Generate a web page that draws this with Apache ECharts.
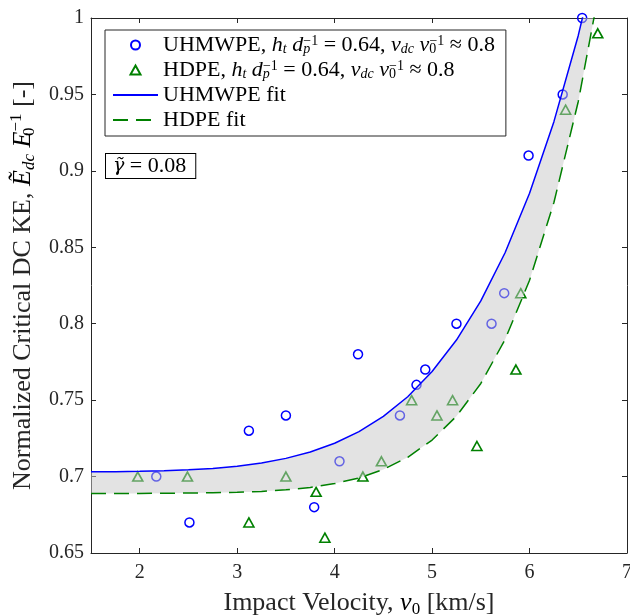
<!DOCTYPE html>
<html>
<head>
<meta charset="utf-8">
<script src="https://cdn.jsdelivr.net/npm/echarts@6/dist/echarts.min.js"></script>
<style>
html,body{margin:0;padding:0;background:#fff;}
#chart{width:630px;height:616px;}
</style>
</head>
<body>
<div id="chart"></div>
<script>
// ---- data ----
const uhmwV = [2.17, 2.51, 3.12, 3.50, 3.79, 4.05, 4.24, 4.67, 4.84, 4.93, 5.25, 5.61, 5.74, 5.99, 6.34, 6.54];
const uhmwE = [0.70, 0.67, 0.73, 0.74, 0.68, 0.71, 0.78, 0.74, 0.76, 0.77, 0.80, 0.80, 0.82, 0.91, 0.95, 1.00];
const hdpeV = [1.98, 2.49, 3.12, 3.50, 3.81, 3.90, 4.29, 4.48, 4.79, 5.05, 5.21, 5.46, 5.86, 5.91, 6.37, 6.70];
const hdpeE = [0.70, 0.70, 0.67, 0.70, 0.69, 0.66, 0.70, 0.71, 0.75, 0.74, 0.75, 0.72, 0.77, 0.82, 0.94, 0.99];
// fit curves, read at regular velocities
const fitV = [1.5, 1.75, 2.0, 2.25, 2.5, 2.75, 3.0, 3.25, 3.5, 3.75, 4.0, 4.25, 4.5, 4.75, 5.0, 5.25, 5.5, 5.75, 6.0, 6.25, 6.5, 6.75];
const fitU = [0.7031, 0.7032, 0.7034, 0.7038, 0.7044, 0.7053, 0.7068, 0.7089, 0.7119, 0.7161, 0.7218, 0.7294, 0.7394, 0.7522, 0.7687, 0.7893, 0.8149, 0.8466, 0.8854, 0.9322, 0.9886, 1.0557];
const fitH = [0.6890, 0.6890, 0.6890, 0.6891, 0.6892, 0.6894, 0.6897, 0.6903, 0.6913, 0.6929, 0.6954, 0.6991, 0.7047, 0.7126, 0.7239, 0.7395, 0.7609, 0.7898, 0.8284, 0.8793, 0.9454, 1.0303];
const xTicks = [2, 3, 4, 5, 6, 7];
const yTicks = [0.65, 0.7, 0.75, 0.8, 0.85, 0.9, 0.95, 1];
const gammaLabel = '0.08';

const zip = (a, b) => a.map((v, i) => [v, b[i]]);
const FONT = "'Liberation Serif', 'Times New Roman', serif";
const AX = '#262626';

function richSet(base, lh, small, subLH, supLH) {
  return {
    i: {fontFamily: FONT, fontSize: base, fontStyle: 'italic', lineHeight: lh, verticalAlign: 'middle', color: '#000'},
    sub: {fontFamily: FONT, fontSize: small, fontStyle: 'italic', lineHeight: subLH, verticalAlign: 'bottom', color: '#000'},
    subn: {fontFamily: FONT, fontSize: small, lineHeight: subLH, verticalAlign: 'bottom', color: '#000'},
    subs: {fontFamily: FONT, fontSize: small, lineHeight: subLH, verticalAlign: 'bottom', width: 0.1, color: '#000'},
    subsi: {fontFamily: FONT, fontSize: small, fontStyle: 'italic', lineHeight: subLH, verticalAlign: 'bottom', width: 0.1, color: '#000'},
    sup: {fontFamily: FONT, fontSize: small, lineHeight: supLH, verticalAlign: 'top', color: '#000'}
  };
}

const legendText = {
  'UHMWPE': 'UHMWPE, {i|h}{sub|t} {i|d}{subsi|p}{sup|\u22121} = 0.64, {i|v}{sub|dc} {i|v}{subs|0}{sup|\u22121} \u2248 0.8',
  'HDPE': 'HDPE, {i|h}{sub|t} {i|d}{subsi|p}{sup|\u22121} = 0.64, {i|v}{sub|dc} {i|v}{subs|0}{sup|\u22121} \u2248 0.8',
  'UHMWPE fit': 'UHMWPE fit',
  'HDPE fit': 'HDPE fit'
};

const chart = echarts.init(document.getElementById('chart'), null, {renderer: 'canvas'});

const axisCommon = {
  type: 'value',
  axisLine: {show: true, onZero: false, lineStyle: {color: AX, width: 1}},
  axisTick: {show: true, inside: true, length: 5, lineStyle: {color: AX, width: 1}},
  splitLine: {show: false}
};

const option = {
  animation: false,
  backgroundColor: '#fff',
  grid: {left: 91, right: 3, top: 18, bottom: 63, containLabel: false, outerBoundsMode: 'none'},
  legend: {
    orient: 'vertical',
    left: 105, top: 30,
    data: [
      {name: 'UHMWPE'},
      {name: 'HDPE', icon: 'path://M0,0L0,0M45,9L45,9M22.5,0L27.5,9L17.5,9Z'},
      {name: 'UHMWPE fit', itemStyle: {opacity: 0}},
      {name: 'HDPE fit', itemStyle: {opacity: 0}}
    ],
    itemWidth: 45, itemHeight: 9, itemGap: 3,
    symbolKeepAspect: true,
    padding: [4, 11, 5, 7],
    borderColor: AX, borderWidth: 1,
    backgroundColor: '#fff',
    selectedMode: false,
    formatter: name => legendText[name],
    textStyle: {fontFamily: FONT, fontSize: 22, color: '#000', lineHeight: 22, rich: richSet(22, 22, 14, 11, 12)}
  },
  xAxis: [
    Object.assign({}, axisCommon, {
      min: 1.5, max: 7, position: 'bottom',
      axisTick: Object.assign({}, axisCommon.axisTick, {customValues: xTicks}),
      axisLabel: {customValues: xTicks, color: AX, fontFamily: FONT, fontSize: 20, margin: 10},
      name: 'Impact Velocity, {i|v}{subn|0} [km/s]',
      nameLocation: 'middle', nameGap: 33,
      nameTextStyle: {fontFamily: FONT, fontSize: 26, color: AX, lineHeight: 30, rich: richSet(26, 30, 17, 15, 17)}
    }),
    Object.assign({}, axisCommon, {
      min: 1.5, max: 7, position: 'top',
      axisTick: Object.assign({}, axisCommon.axisTick, {customValues: xTicks}),
      axisLabel: {show: false}
    })
  ],
  yAxis: [
    Object.assign({}, axisCommon, {
      min: 0.65, max: 1, position: 'left',
      axisTick: Object.assign({}, axisCommon.axisTick, {customValues: yTicks}),
      axisLabel: {customValues: yTicks, color: AX, fontFamily: FONT, fontSize: 20, margin: 7},
      name: 'Normalized Critical DC KE, {i|\u1EBC}{sub|dc} {i|E}{subs|0}{sup|\u22121} [-]',
      nameLocation: 'middle', nameGap: 51, nameRotate: 90,
      nameTextStyle: {fontFamily: FONT, fontSize: 26, color: AX, lineHeight: 30, rich: richSet(26, 30, 17, 15, 17)}
    }),
    Object.assign({}, axisCommon, {
      min: 0.65, max: 1, position: 'right',
      axisTick: Object.assign({}, axisCommon.axisTick, {customValues: yTicks}),
      axisLabel: {show: false}
    })
  ],
  graphic: [{
    type: 'text', left: 105, top: 153, z: 100,
    style: {
      text: '{i|\u03B3\u0303} = ' + gammaLabel,
      fontFamily: FONT, fontSize: 22, fill: '#000',
      rich: {i: {fontFamily: "'DejaVu Serif', serif", fontSize: 19, fontStyle: 'italic', fill: '#000'}},
      backgroundColor: '#fff', borderColor: '#000', borderWidth: 1,
      padding: [1, 9, 1, 7]
    }
  }],
  series: [
    {
      name: 'UHMWPE', type: 'scatter', z: 2,
      data: zip(uhmwV, uhmwE),
      symbol: 'circle', symbolSize: 9,
      itemStyle: {color: 'rgba(255,255,255,0)', borderColor: '#0000ff', borderWidth: 1.5, opacity: 1}
    },
    {
      name: 'HDPE', type: 'scatter', z: 2,
      data: zip(hdpeV, hdpeE),
      symbol: 'triangle', symbolSize: [10, 9], symbolKeepAspect: true,
      itemStyle: {color: 'rgba(255,255,255,0)', borderColor: '#008000', borderWidth: 1.6, opacity: 1}
    },
    {
      name: 'band', type: 'custom', z: 3, clip: true,
      data: [[fitV[0], fitU[0]]],
      encode: {x: 0, y: 1},
      silent: true,
      renderItem: function (params, api) {
        const pts = [];
        for (let i = 0; i < fitV.length; i++) pts.push(api.coord([fitV[i], fitU[i]]));
        for (let i = fitV.length - 1; i >= 0; i--) pts.push(api.coord([fitV[i], fitH[i]]));
        return {type: 'polygon', shape: {points: pts}, style: {fill: 'rgba(200,200,200,0.5)', stroke: null}};
      }
    },
    {
      name: 'UHMWPE fit', type: 'line', z: 4,
      data: zip(fitV, fitU),
      symbol: 'none', showSymbol: false, smooth: false,
      lineStyle: {color: '#0000ff', width: 1.5},
      itemStyle: {color: '#0000ff'}
    },
    {
      name: 'HDPE fit', type: 'line', z: 4,
      data: zip(fitV, fitH),
      symbol: 'none', showSymbol: false, smooth: false,
      lineStyle: {color: '#008000', width: 1.5, type: [15, 8]},
      itemStyle: {color: '#008000'}
    }
  ]
};
chart.setOption(option);
</script>
</body>
</html>
